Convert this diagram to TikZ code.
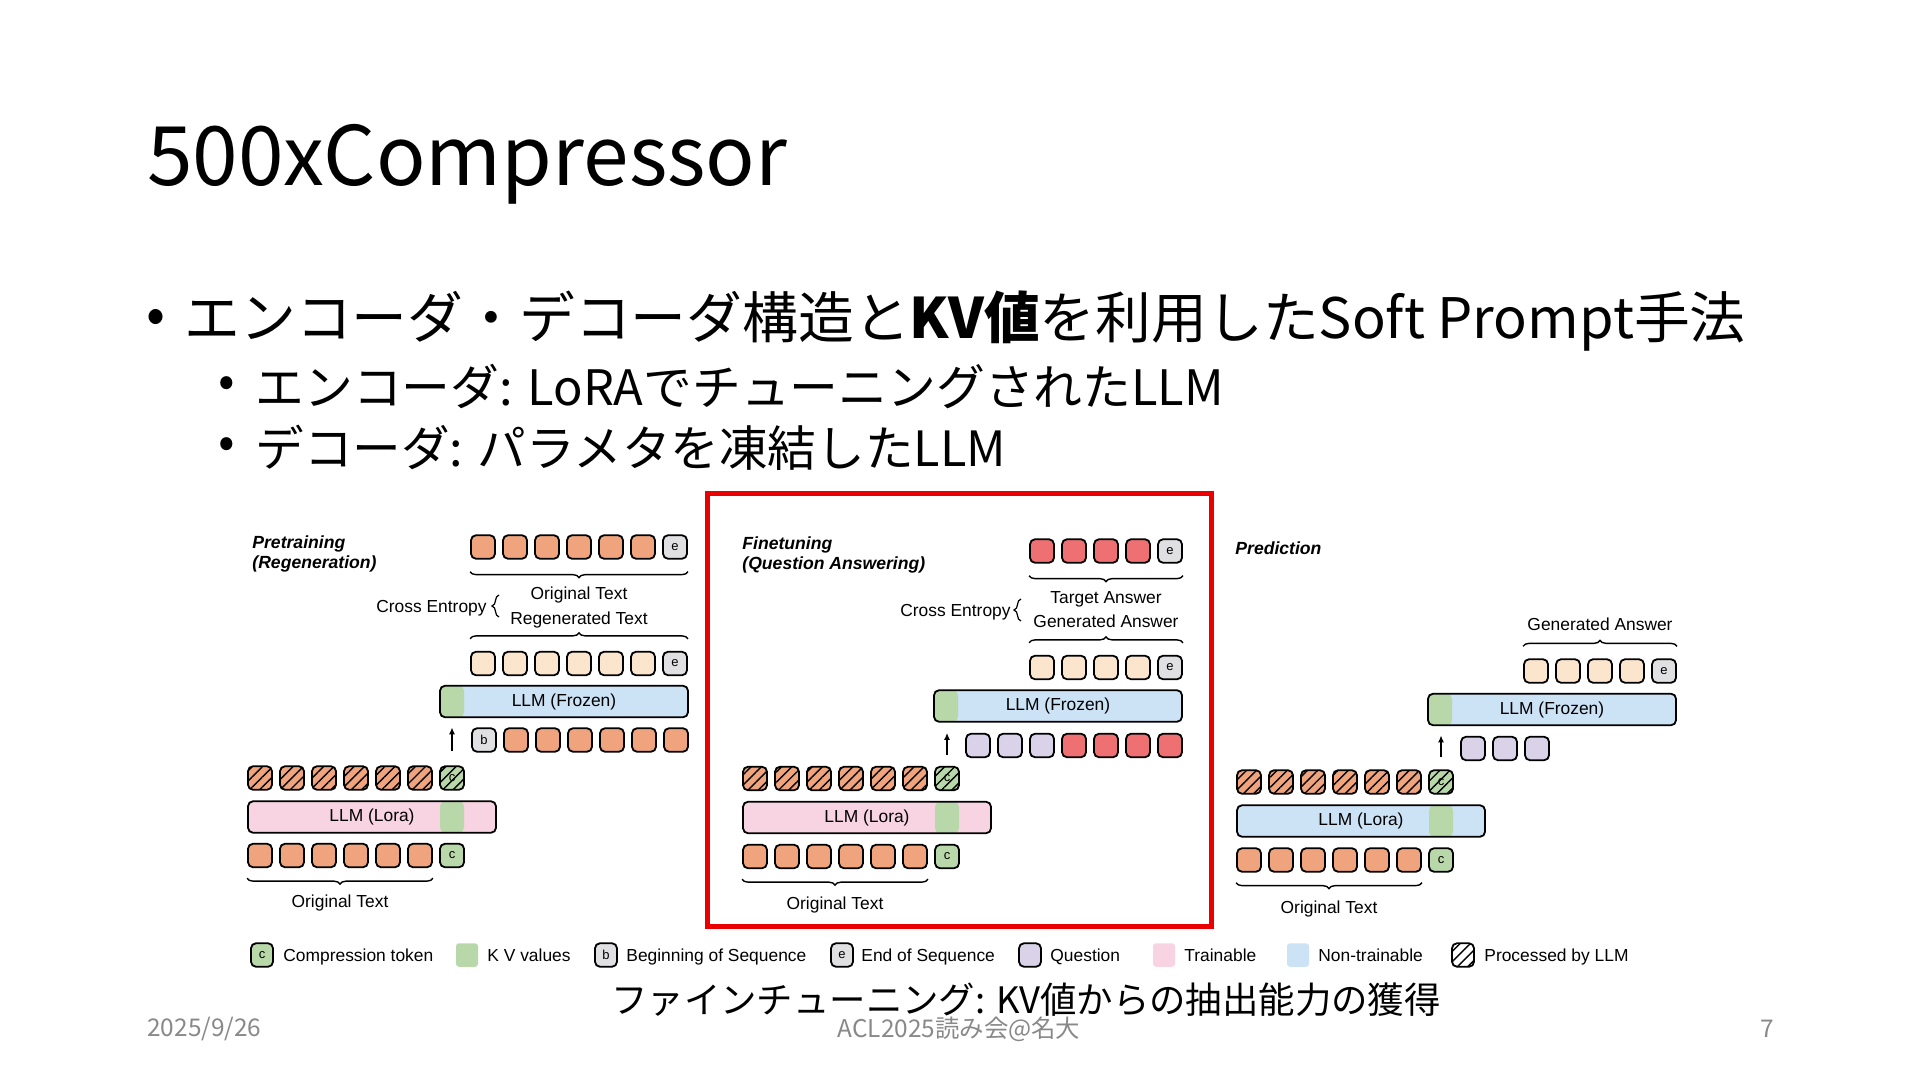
\documentclass[tikz,border=0pt]{standalone}
\usepackage{fontspec}
\setmainfont{Noto Sans CJK JP}
\newfontfamily\diag{Liberation Sans}
\usetikzlibrary{arrows.meta,decorations.pathreplacing,patterns.meta}

\definecolor{orig}{RGB}{240,164,125}
\definecolor{peach}{RGB}{252,229,205}
\definecolor{redt}{RGB}{238,112,114}
\definecolor{quest}{RGB}{217,210,233}
\definecolor{grayt}{RGB}{224,224,227}
\definecolor{kvg}{RGB}{185,216,170}
\definecolor{train}{RGB}{248,212,227}
\definecolor{nontr}{RGB}{204,226,245}
\definecolor{redbox}{RGB}{234,0,0}
\definecolor{foot}{RGB}{137,137,137}

\tikzset{
	tok/.style={draw, line width=0.9pt, rounded corners=2.5pt, minimum width=12pt, minimum height=11.75pt, inner sep=0pt, font=\diag\fontsize{6.5}{7}\selectfont},
	hatch/.style={tok, postaction={pattern={Lines[angle=45,distance=3.6pt,line width=0.7pt]}}},
	swatch/.style={rounded corners=1.5pt, minimum width=11pt, minimum height=11.75pt, inner sep=0pt},
	llmbar/.style={draw, line width=0.9pt, rounded corners=2.5pt, minimum width=124pt, minimum height=15.75pt, inner sep=0pt, font=\diag\fontsize{8.7}{10}\selectfont},
	kvleft/.style={path picture={\fill[kvg] (path picture bounding box.north west) rectangle ([xshift=12pt]path picture bounding box.south west);}},
	kvmid/.style={path picture={\fill[kvg] ([xshift=96pt]path picture bounding box.north west) rectangle ([xshift=108pt]path picture bounding box.south west);}},
	lbl/.style={inner sep=0pt, text height=6.8pt, text depth=0.6pt, font=\diag\fontsize{8.7}{10}\selectfont},
	phase/.style={anchor=north west, align=left, inner sep=0pt, font=\diag\bfseries\itshape\fontsize{8.8}{10.2}\selectfont},
	brc/.style={decorate, decoration={brace, amplitude=3pt}, line width=0.7pt},
	cebrc/.style={decorate, decoration={brace, amplitude=3.5pt}, line width=0.6pt},
	uparr/.style={-{Latex[length=3.5pt,width=3pt]}, line width=0.75pt},
	sl/.style={inner sep=0pt},
}

\begin{document}
\begin{tikzpicture}[x=0.5pt,y=-0.5pt]
	\useasboundingbox (0,0) rectangle (1920,1080);
	\fill[white] (0,0) rectangle (1920,1080);

	%SLIDE TEXT
	\node[sl, anchor=base west, font=\fontsize{41}{49}\selectfont] (title) at (147,186) {500xCompressor};
	\node[sl, font=\fontsize{28}{34}\selectfont] (dot1) at (156,321) {•};
	\node[sl, anchor=west, font=\fontsize{27.9}{34}\selectfont] (line1) at (184,321) {エンコーダ・デコーダ構造と\textbf{KV値}を利用したSoft Prompt手法};
	\node[sl, font=\fontsize{24.4}{30}\selectfont] (dot2) at (227,387) {•};
	\node[sl, anchor=west, font=\fontsize{24.4}{30}\selectfont] (line2) at (255,387) {エンコーダ: LoRAでチューニングされたLLM};
	\node[sl, font=\fontsize{24.4}{30}\selectfont] (dot3) at (227,448) {•};
	\node[sl, anchor=west, font=\fontsize{24.3}{30}\selectfont] (line3) at (255,448) {デコーダ: パラメタを凍結したLLM};

	%RED FRAME
	\draw[redbox, line width=2.5pt] (707.5,493.5) rectangle (1211.5,926.5);

	%PRETRAINING
	\node[phase] (p1name) at (252,535) {Pretraining\\(Regeneration)};
	\foreach \i in {0,...,5}
		\node[tok, fill=orig] (p1t\i) at (483+32*\i,547) {};
	\node[tok, fill=grayt] (p1te) at (675,547) {e};
	\draw[brc] ([yshift=-6pt]p1te.south east) -- ([yshift=-6pt]p1t0.south west);
	\node[lbl] (p1ot) at (579,593) {Original Text};
	\node[lbl] (p1rt) at (579,618) {Regenerated Text};
	\node[lbl, anchor=east] (p1ce) at (487,606) {Cross Entropy};
	\draw[cebrc] (499,617) -- (499,595);
	\foreach \i in {0,...,5}
		\node[tok, fill=peach] (p1g\i) at (483+32*\i,663.5) {};
	\node[tok, fill=grayt] (p1ge) at (675,663.5) {e};
	\draw[brc] ([yshift=6pt]p1g0.north west) -- ([yshift=6pt]p1ge.north east);
	\node[llmbar, fill=nontr, kvleft] (p1dec) at (564,701.5) {LLM (Frozen)};
	\node[tok, fill=grayt] (p1b) at (484,740) {b};
	\foreach \i in {1,...,6}
		\node[tok, fill=orig] (p1d\i) at (484+32*\i,740) {};
	\foreach \i in {0,...,5}
		\node[hatch, fill=orig] (p1h\i) at (260+32*\i,778) {};
	\node[hatch, fill=kvg] (p1hc) at (452,778) {c};
	\draw[uparr] ([yshift=7pt]p1hc.north) -- ([yshift=19pt]p1hc.north);
	\node[llmbar, fill=train, kvmid] (p1enc) at (372,817) {LLM (Lora)};
	\foreach \i in {0,...,5}
		\node[tok, fill=orig] (p1i\i) at (260+32*\i,855.5) {};
	\node[tok, fill=kvg] (p1ic) at (452,855.5) {c};
	\draw[brc] ([yshift=-5pt]p1i5.south east) -- ([yshift=-5pt]p1i0.south west);
	\node[lbl] (p1src) at (340,901) {Original Text};

	%FINETUNING
	\node[phase] (p2name) at (742,536) {Finetuning\\(Question Answering)};
	\foreach \i in {0,...,3}
		\node[tok, fill=redt] (p2t\i) at (1042+32*\i,551) {};
	\node[tok, fill=grayt] (p2te) at (1170,551) {e};
	\draw[brc] ([yshift=-6pt]p2te.south east) -- ([yshift=-6pt]p2t0.south west);
	\node[lbl] (p2ta) at (1106,597) {Target Answer};
	\node[lbl] (p2ga) at (1106,621) {Generated Answer};
	\node[lbl, anchor=east] (p2ce) at (1011,610) {Cross Entropy};
	\draw[cebrc] (1021,621) -- (1021,599);
	\foreach \i in {0,...,3}
		\node[tok, fill=peach] (p2g\i) at (1042+32*\i,667.5) {};
	\node[tok, fill=grayt] (p2ge) at (1170,667.5) {e};
	\draw[brc] ([yshift=6pt]p2g0.north west) -- ([yshift=6pt]p2ge.north east);
	\node[llmbar, fill=nontr, kvleft] (p2dec) at (1058,706) {LLM (Frozen)};
	\foreach \i in {0,...,2}
		\node[tok, fill=quest] (p2q\i) at (978+32*\i,745.5) {};
	\foreach \i in {3,...,6}
		\node[tok, fill=redt] (p2d\i) at (978+32*\i,745.5) {};
	\foreach \i in {0,...,5}
		\node[hatch, fill=orig] (p2h\i) at (755+32*\i,778.5) {};
	\node[hatch, fill=kvg] (p2hc) at (947,778.5) {c};
	\draw[uparr] ([yshift=5.5pt]p2hc.north) -- ([yshift=16.5pt]p2hc.north);
	\node[llmbar, fill=train, kvmid] (p2enc) at (867,817.5) {LLM (Lora)};
	\foreach \i in {0,...,5}
		\node[tok, fill=orig] (p2i\i) at (755+32*\i,856.5) {};
	\node[tok, fill=kvg] (p2ic) at (947,856.5) {c};
	\draw[brc] ([yshift=-5pt]p2i5.south east) -- ([yshift=-5pt]p2i0.south west);
	\node[lbl] (p2src) at (835,903) {Original Text};

	%PREDICTION
	\node[phase] (p3name) at (1235,541) {Prediction};
	\node[lbl] (p3ga) at (1600,624) {Generated Answer};
	\foreach \i in {0,...,3}
		\node[tok, fill=peach] (p3g\i) at (1536+32*\i,671) {};
	\node[tok, fill=grayt] (p3ge) at (1664,671) {e};
	\draw[brc] ([yshift=6pt]p3g0.north west) -- ([yshift=6pt]p3ge.north east);
	\node[llmbar, fill=nontr, kvleft] (p3dec) at (1552,709.5) {LLM (Frozen)};
	\foreach \i in {0,...,2}
		\node[tok, fill=quest] (p3q\i) at (1473+32*\i,748.5) {};
	\foreach \i in {0,...,5}
		\node[hatch, fill=orig] (p3h\i) at (1249+32*\i,782) {};
	\node[hatch, fill=kvg] (p3hc) at (1441,782) {c};
	\draw[uparr] ([yshift=6pt]p3hc.north) -- ([yshift=17pt]p3hc.north);
	\node[llmbar, fill=nontr, kvmid] (p3enc) at (1361,821) {LLM (Lora)};
	\foreach \i in {0,...,5}
		\node[tok, fill=orig] (p3i\i) at (1249+32*\i,860) {};
	\node[tok, fill=kvg] (p3ic) at (1441,860) {c};
	\draw[brc] ([yshift=-5pt]p3i5.south east) -- ([yshift=-5pt]p3i0.south west);
	\node[lbl] (p3src) at (1329,907) {Original Text};

	%LEGEND
	\node[tok, fill=kvg, minimum width=11pt] (lgc) at (262,955) {c};
	\node[lbl, anchor=west] (lgct) at (283,955) {Compression token};
	\node[swatch, fill=kvg] (lgkv) at (467,955) {};
	\node[lbl, anchor=west] (lgkvt) at (487,955) {K V values};
	\node[tok, fill=grayt, minimum width=11pt] (lgb) at (606,955) {b};
	\node[lbl, anchor=west] (lgbt) at (626,955) {Beginning of Sequence};
	\node[tok, fill=grayt, minimum width=11pt] (lge) at (842,955) {e};
	\node[lbl, anchor=west] (lget) at (861,955) {End of Sequence};
	\node[tok, fill=quest, minimum width=11pt] (lgq) at (1030,955) {};
	\node[lbl, anchor=west] (lgqt) at (1050,955) {Question};
	\node[swatch, fill=train] (lgtr) at (1164,955) {};
	\node[lbl, anchor=west] (lgtrt) at (1184,955) {Trainable};
	\node[swatch, fill=nontr] (lgnt) at (1298,955) {};
	\node[lbl, anchor=west] (lgntt) at (1318,955) {Non-trainable};
	\node[hatch, fill=white, minimum width=11pt] (lgh) at (1463,955) {};
	\node[lbl, anchor=west] (lght) at (1484,955) {Processed by LLM};

	%CAPTION AND FOOTER
	\node[sl, font=\fontsize{18.2}{22}\selectfont] (cap) at (1026,1000) {ファインチューニング: KV値からの抽出能力の獲得};
	\node[sl, anchor=west, text=foot, font=\fontsize{12.2}{15}\selectfont] (date) at (147,1029) {2025/9/26};
	\node[sl, text=foot, font=\fontsize{12.2}{15}\selectfont] (event) at (959,1029) {ACL2025読み会@名大};
	\node[sl, text=foot, font=\fontsize{12.2}{15}\selectfont] (page) at (1767,1029) {7};
\end{tikzpicture}
\end{document}
